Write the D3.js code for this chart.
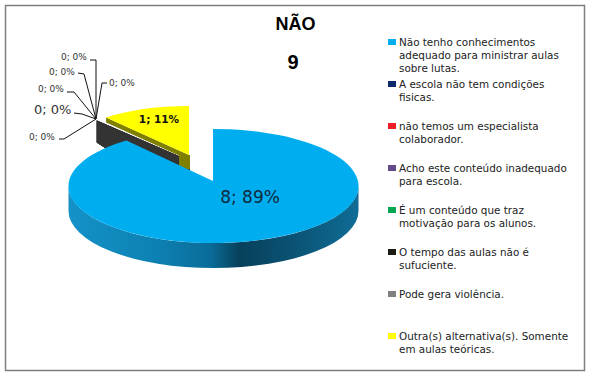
<!DOCTYPE html>
<html>
<head>
<meta charset="utf-8">
<script src="https://cdn.jsdelivr.net/npm/d3@7"></script>
<style>
  html, body { margin: 0; background: #fff; }
  svg { display: block; }
</style>
</head>
<body>
<script>
// Chart data
const categories = [
    "Não tenho conhecimentos adequado para ministrar aulas sobre lutas.",
    "A escola não tem condições fisicas.",
    "não temos um especialista colaborador.",
    "Acho este conteúdo inadequado para escola.",
    "É um conteúdo que traz motivação para os alunos.",
    "O tempo das aulas não é sufuciente.",
    "Pode gera violência.",
    "Outra(s) alternativa(s). Somente em aulas teóricas."
];
const values = [8, 0, 0, 0, 0, 0, 0, 1];
const colors = ["#00aeef", "#0f2a6b", "#ee1c25", "#5f4b8b", "#00a651", "#1c1c14", "#808080", "#ffff00"];
const legendLines = [
    ["Não tenho conhecimentos", "adequado para ministrar aulas", "sobre lutas."],
    ["A escola não tem condições", "fisicas."],
    ["não temos um especialista", "colaborador."],
    ["Acho este conteúdo inadequado", "para escola."],
    ["É um conteúdo que traz", "motivação para os alunos."],
    ["O tempo das aulas não é", "sufuciente."],
    ["Pode gera violência."],
    ["Outra(s) alternativa(s). Somente", "em aulas teóricas."]
];
const title = "NÃO";
const subtitle = "9";

const width = 592;
const height = 376;
const total = d3.sum(values);
const labelFont = "'DejaVu Sans', sans-serif";
const titleFont = "'Liberation Sans', sans-serif";

const svg = d3.select("body").append("svg")
    .attr("width", width)
    .attr("height", height);

// Frame
svg.append("rect")
    .attr("x", 5.5).attr("y", 5.5)
    .attr("width", 579).attr("height", 365)
    .attr("fill", "#fff")
    .attr("stroke", "#7f7f7f")
    .attr("stroke-width", 1.5);

// Title
svg.append("text").attr("x", 295.5).attr("y", 30)
    .attr("text-anchor", "middle")
    .style("font", `bold 18px ${titleFont}`)
    .text(title);
svg.append("text").attr("x", 293).attr("y", 69)
    .attr("text-anchor", "middle")
    .style("font", `bold 20px ${titleFont}`)
    .text(subtitle);

// Rim shading of the big slice
const rimGradient = svg.append("defs").append("linearGradient")
    .attr("id", "rim")
    .attr("gradientUnits", "userSpaceOnUse")
    .attr("x1", 69).attr("x2", 358).attr("y1", 0).attr("y2", 0);
[[0, "#1492c8"], [0.31, "#0c80b2"], [0.49, "#0a6c98"], [0.59, "#07405b"], [0.77, "#0a5273"], [1, "#0f6c96"]]
    .forEach(s => rimGradient.append("stop").attr("offset", s[0]).attr("stop-color", s[1]));

// Pie angles: start at 12 o'clock and go clockwise
const slices = d3.pie().sort(null).value(d => d)(values);

// Where the ray from the slice apex at angle a meets the ellipse of the disc.
// The apex sits a little above the ellipse centre because of the perspective.
function rimPoint(disc, a) {
    const dx = disc.rx * Math.sin(a);
    const dy = -disc.ry * Math.cos(a);
    const ox = (disc.ax - disc.cx) / disc.rx;
    const oy = (disc.ay - disc.cy) / disc.ry;
    const ux = dx / disc.rx;
    const uy = dy / disc.ry;
    const b = ox * ux + oy * uy;
    const t = -b + Math.sqrt(b * b + 1 - ox * ox - oy * oy);
    return [disc.ax + dx * t, disc.ay + dy * t];
}

// Outline of the top of a slice, as an elliptical arc
function topPath(disc, start, end) {
    const p0 = rimPoint(disc, start);
    const p1 = rimPoint(disc, end);
    const large = end - start > Math.PI ? 1 : 0;
    return `M${disc.ax},${disc.ay}L${p0}A${disc.rx},${disc.ry} 0 ${large} 1 ${p1}Z`;
}

const mainDisc = { cx: 213.5, cy: 186, rx: 145, ry: 57, ax: 213, ay: 181, depth: 25 };
const zeroDisc = { cx: 190, cy: 161, rx: 145, ry: 53, ax: 190, ay: 161, depth: 22 };
const smallDisc = { cx: 189, cy: 155, rx: 129, ry: 49, ax: 189, ay: 155, depth: 14, rimDepth: 5, kneeAt: 0.88 };

// Walls of the empty slices, all on the same cut
slices.filter(d => d.value === 0).forEach(d => {
    const p = rimPoint(zeroDisc, d.startAngle);
    svg.append("path")
        .attr("d", `M${zeroDisc.ax},${zeroDisc.ay}L${p}l0,${zeroDisc.depth}L${zeroDisc.ax},${zeroDisc.ay + zeroDisc.depth + 20}Z`)
        .attr("fill", "#333");
});

// Small slice: wall first and then its top
slices.filter(d => d.index === 7).forEach(d => {
    const p = rimPoint(smallDisc, d.startAngle);
    // The wall band runs along the cut, then drops to full depth near the apex
    const kneeX = p[0] + smallDisc.kneeAt * (smallDisc.ax - p[0]);
    const kneeY = p[1] + smallDisc.rimDepth + smallDisc.kneeAt * (smallDisc.ay - p[1]);
    svg.append("path")
        .attr("d", `M${smallDisc.ax},${smallDisc.ay}L${p}l0,${smallDisc.rimDepth}L${kneeX},${kneeY}l0,${smallDisc.depth}L${smallDisc.ax + 1},${smallDisc.ay + smallDisc.depth}l0,${-smallDisc.depth}Z`)
        .attr("fill", "#7f7f00");
    svg.append("path")
        .attr("d", topPath(smallDisc, d.startAngle, d.endAngle))
        .attr("fill", colors[d.index]);
});

// Big slice: rim first and then its top
slices.filter(d => d.index === 0).forEach(d => {
    const left = [mainDisc.cx - mainDisc.rx, mainDisc.cy];
    const right = [mainDisc.cx + mainDisc.rx, mainDisc.cy];
    svg.append("path")
        .attr("d", `M${left}A${mainDisc.rx},${mainDisc.ry} 0 0 0 ${right}l0,${mainDisc.depth}A${mainDisc.rx},${mainDisc.ry} 0 0 1 ${left[0]},${left[1] + mainDisc.depth}Z`)
        .attr("fill", "url(#rim)");
    svg.append("path")
        .attr("d", topPath(mainDisc, d.startAngle, d.endAngle))
        .attr("fill", colors[d.index]);
});

// Data labels on the two real slices
function pieLabel(i) {
    return `${values[i]}; ${Math.round(values[i] / total * 100)}%`;
}
svg.append("text").attr("x", 250).attr("y", 203)
    .attr("text-anchor", "middle").attr("fill", "#10283c")
    .style("font", `17px ${labelFont}`)
    .text(pieLabel(0));
svg.append("text").attr("x", 159).attr("y", 123)
    .attr("text-anchor", "middle").attr("fill", "#111")
    .style("font", `bold 10.5px ${labelFont}`)
    .text(pieLabel(7));

// Leader lines and labels of the empty slices. One layout row per slice
const leaderHub = [96, 119];
const leaders = [
    { i: 1, x: 61, y: 60, knee: [90, 60, 96, 60], size: 9 },
    { i: 2, x: 49, y: 75, knee: [78, 73, 84, 74], size: 9 },
    { i: 3, x: 38, y: 92, knee: [67, 92, 74, 92], size: 9 },
    { i: 4, x: 34, y: 114, knee: [74, 113, 82, 114], size: 13 },
    { i: 5, x: 29, y: 140, knee: [59, 139, 64, 139], size: 9 },
    { i: 6, x: 109, y: 86, knee: [107, 83, 102, 83], size: 9 }
];
leaders.forEach(l => {
    svg.append("path")
        .attr("d", `M${l.knee[0]},${l.knee[1]}L${l.knee[2]},${l.knee[3]}L${leaderHub}`)
        .attr("fill", "none")
        .attr("stroke", "#111")
        .attr("stroke-width", 1);
    svg.append("text").attr("x", l.x).attr("y", l.y)
        .attr("fill", "#333")
        .style("font", `${l.size}px ${labelFont}`)
        .text(pieLabel(l.i));
});

// Legend
const legendY = d3.scalePoint().domain(d3.range(categories.length)).range([42, 336]);
const legend = svg.append("g").selectAll("g")
    .data(categories)
    .enter()
    .append("g")
    .attr("transform", (d, i) => `translate(388,${legendY(i)})`);

legend.append("rect")
    .attr("y", -3).attr("width", 8).attr("height", 6)
    .attr("fill", (d, i) => colors[i]);

legend.append("text")
    .attr("fill", "#222")
    .style("font", `10.4px ${labelFont}`)
    .selectAll("tspan")
    .data((d, i) => legendLines[i])
    .enter()
    .append("tspan")
    .attr("x", 11)
    .attr("y", (d, i) => 4 + i * 13)
    .text(d => d);
</script>
</body>
</html>
